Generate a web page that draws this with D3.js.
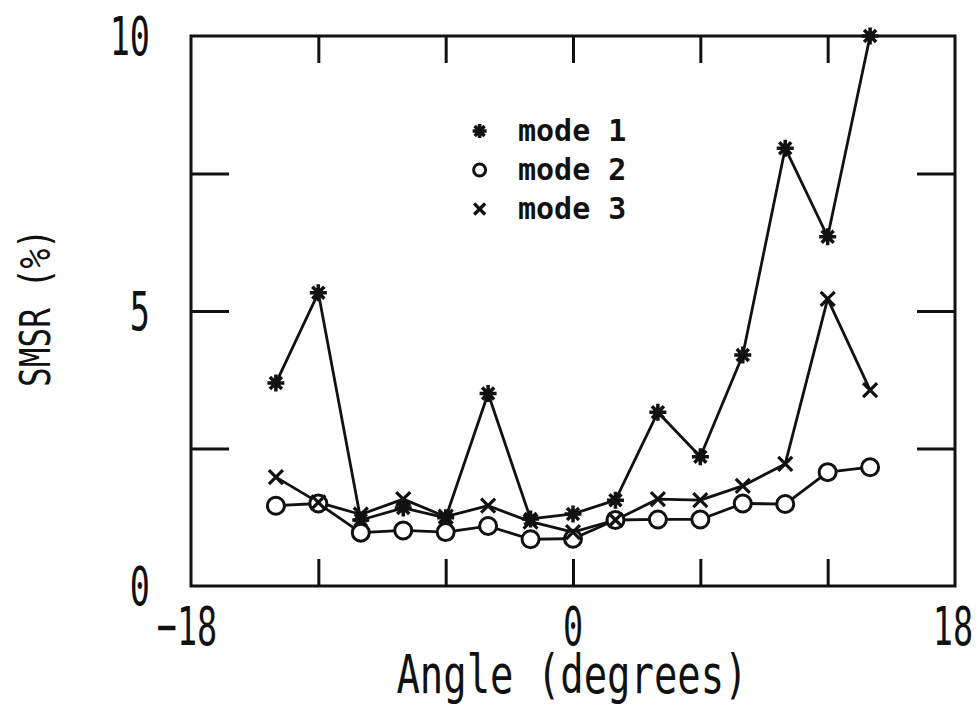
<!DOCTYPE html>
<html>
<head>
<meta charset="utf-8">
<script src="https://cdn.jsdelivr.net/npm/d3@7"></script>
<style>
  html, body { margin: 0; padding: 0; background: #fff; }
  svg { display: block; }
  .plotter { font-family: "DejaVu Sans Mono", "Liberation Mono", monospace; fill: #111; }
</style>
</head>
<body>
<svg id="chart" width="979" height="710"></svg>
<script>
// Measured side-mode suppression ratio versus angle
const angles = [-14, -12, -10, -8, -6, -4, -2, 0, 2, 4, 6, 8, 10, 12, 14];
const mode1 = [3.69, 5.33, 1.2, 1.42, 1.24, 3.5, 1.22, 1.31, 1.56, 3.16, 2.35, 4.2, 7.96, 6.35, 10.0];
const mode2 = [1.46, 1.5, 0.97, 1.01, 0.98, 1.09, 0.85, 0.86, 1.2, 1.21, 1.21, 1.5, 1.49, 2.07, 2.16];
const mode3 = [1.98, 1.52, 1.3, 1.58, 1.26, 1.46, 1.17, 0.98, 1.2, 1.58, 1.56, 1.82, 2.22, 5.22, 3.56];

const seriesNames = ["mode 1", "mode 2", "mode 3"];
const xDomain = [-18, 18];
const yDomain = [0, 10];
const xTickValues = [-18, -12, -6, 0, 6, 12, 18];
const xTickLabels = [-18, 0, 18];
const yTickValues = [0, 2.5, 5, 7.5, 10];
const yTickLabels = [0, 5, 10];
const xTitle = "Angle (degrees)";
const yTitle = "SMSR (%)";

const svg = d3.select("#chart");
const plotLeft = 191, plotRight = 955, plotTop = 36, plotBottom = 586;

const x = d3.scaleLinear().domain(xDomain).range([plotLeft, plotRight]);
const y = d3.scaleLinear().domain(yDomain).range([plotBottom, plotTop]);

const ink = "#111";

// Frame with inward ticks on all four sides
const axisStyle = g => {
  g.select(".domain").remove();
  g.selectAll(".tick text").remove();
  g.selectAll(".tick line").attr("stroke", ink).attr("stroke-width", 3);
};
svg.append("g").attr("transform", `translate(0,${plotBottom})`)
  .call(d3.axisBottom(x).tickValues(xTickValues.slice(1, -1)).tickSize(-27)).call(axisStyle);
svg.append("g").attr("transform", `translate(0,${plotTop})`)
  .call(d3.axisTop(x).tickValues(xTickValues.slice(1, -1)).tickSize(-27)).call(axisStyle);
svg.append("g").attr("transform", `translate(${plotLeft},0)`)
  .call(d3.axisLeft(y).tickValues(yTickValues.slice(1, -1)).tickSize(-38)).call(axisStyle);
svg.append("g").attr("transform", `translate(${plotRight},0)`)
  .call(d3.axisRight(y).tickValues(yTickValues.slice(1, -1)).tickSize(-38)).call(axisStyle);

svg.append("rect")
  .attr("x", x(xDomain[0])).attr("y", y(yDomain[1]))
  .attr("width", x(xDomain[1]) - x(xDomain[0]))
  .attr("height", y(yDomain[0]) - y(yDomain[1]))
  .attr("fill", "none").attr("stroke", ink).attr("stroke-width", 3);

// Tick labels in a tall, narrow plotter style
const narrow = (sel, sx) => sel.attr("transform", function () {
  const px = +this.getAttribute("data-x"), py = +this.getAttribute("data-y");
  return `translate(${px},${py}) scale(${sx},1)`;
});

svg.selectAll(".ylab").data(yTickLabels).join("text")
  .attr("class", "plotter ylab")
  .attr("data-x", 150).attr("data-y", d => y(d) + 19)
  .attr("text-anchor", "end")
  .style("font-size", "54px")
  .text(d => d)
  .call(narrow, 0.62);

svg.selectAll(".xlab").data(xTickLabels).join("text")
  .attr("class", "plotter xlab")
  .attr("data-x", d => x(d) + (d < 0 ? -4 : d > 0 ? -2 : 0)).attr("data-y", 645)
  .attr("text-anchor", "middle")
  .style("font-size", "54px")
  .text(d => d < 0 ? "\u2212" + Math.abs(d) : d)
  .call(narrow, 0.62);

svg.append("text").attr("class", "plotter")
  .attr("text-anchor", "middle")
  .attr("transform", `translate(${572},${693}) scale(0.72,1)`)
  .style("font-size", "54px")
  .text(xTitle);

svg.append("text").attr("class", "plotter")
  .attr("text-anchor", "middle")
  .attr("transform", `translate(50,${308}) rotate(-90) scale(0.78,1)`)
  .style("font-size", "42px")
  .text(yTitle);

// Marker shapes
function drawAsterisk(g, r) {
  const p = d3.path();
  for (let i = 0; i < 4; i++) {
    const a = i * Math.PI / 4;
    p.moveTo(-r * Math.cos(a), -r * Math.sin(a));
    p.lineTo(r * Math.cos(a), r * Math.sin(a));
  }
  g.append("path").attr("d", p.toString()).attr("stroke", ink).attr("stroke-width", 3.5).attr("fill", "none");
  g.append("circle").attr("r", r * 0.55).attr("fill", ink);
}
function drawCircle(g, r) {
  g.append("circle").attr("r", r).attr("fill", "#fff").attr("stroke", ink).attr("stroke-width", 3);
}
function drawCross(g, r) {
  const p = d3.path();
  p.moveTo(-r, -r); p.lineTo(r, r);
  p.moveTo(-r, r); p.lineTo(r, -r);
  g.append("path").attr("d", p.toString()).attr("stroke", ink).attr("stroke-width", 3.2).attr("fill", "none");
}

const series = [
  { name: seriesNames[0], values: mode1, marker: g => drawAsterisk(g, 8.5) },
  { name: seriesNames[1], values: mode2, marker: g => drawCircle(g, 8.5) },
  { name: seriesNames[2], values: mode3, marker: g => drawCross(g, 7) }
];

const line = d3.line().x(d => x(d[0])).y(d => y(d[1]));

series.forEach(s => {
  const pts = angles.map((a, i) => [a, s.values[i]]);
  svg.append("path").attr("d", line(pts))
    .attr("fill", "none").attr("stroke", ink).attr("stroke-width", 2.8).attr("stroke-linejoin", "round");
});
series.forEach(s => {
  angles.forEach((a, i) => {
    const g = svg.append("g").attr("transform", `translate(${x(a)},${y(s.values[i])})`);
    s.marker(g);
  });
});

// Legend
const legend = svg.append("g");
series.forEach((s, i) => {
  const cy = 131 + i * 39;
  const mg = legend.append("g").attr("transform", `translate(${x(-4.4)},${cy})`);
  if (i === 0) drawAsterisk(mg, 7);
  if (i === 1) { mg.append("circle").attr("r", 6).attr("fill", "none").attr("stroke", ink).attr("stroke-width", 3); }
  if (i === 2) drawCross(mg, 5.5);
  legend.append("text").attr("class", "plotter")
    .attr("x", 518).attr("y", cy + 10)
    .style("font-size", "30px").style("font-weight", "bold")
    .text(s.name);
});
</script>
</body>
</html>
